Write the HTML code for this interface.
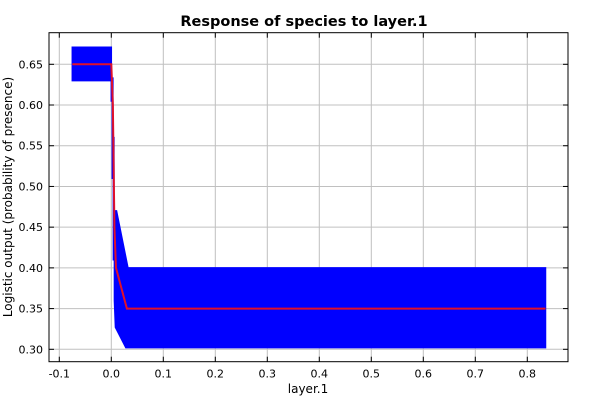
<!DOCTYPE html>
<html><head><meta charset="utf-8"><style>
body{margin:0;background:#fff;font-family:"DejaVu Sans","Liberation Sans",sans-serif}
</style></head><body>
<svg id="c" width="600" height="400" xmlns="http://www.w3.org/2000/svg" style="font-family:'DejaVu Sans','Liberation Sans',sans-serif">
<text x="304" y="26" text-anchor="middle" font-size="14.5" font-weight="bold">Response of species to layer.1</text>
<text x="308" y="393" text-anchor="middle" font-size="12">layer.1</text>
<text transform="translate(12,197) rotate(-90)" text-anchor="middle" font-size="12">Logistic output (probability of presence)</text>
<g id="grid"></g><g id="marks"></g><g id="axes"></g>
</svg>
<script>
const xTicks=[-0.1,0,0.1,0.2,0.3,0.4,0.5,0.6,0.7,0.8];
const xTickLabels=["-0.1","0.0","0.1","0.2","0.3","0.4","0.5","0.6","0.7","0.8"];
const yTicks=[0.30,0.35,0.40,0.45,0.50,0.55,0.60,0.65];
const yTickLabels=["0.30","0.35","0.40","0.45","0.50","0.55","0.60","0.65"];
const upperX=[-0.075,0.0,0.0,0.003,0.003,0.005,0.005,0.01,0.032,0.835];
const upperY=[0.671,0.671,0.633,0.633,0.56,0.56,0.47,0.47,0.40,0.40];
const lowerX=[-0.075,0.0,0.0,0.002,0.002,0.004,0.004,0.006,0.006,0.008,0.028,0.835];
const lowerY=[0.63,0.63,0.605,0.605,0.51,0.51,0.41,0.41,0.36,0.327,0.302,0.302];
const meanX=[-0.075,0.0,0.003,0.006,0.009,0.03,0.835];
const meanY=[0.65,0.65,0.60,0.45,0.40,0.35,0.35];
const L=49,R=568,T=32.7,B=361.7;
const sx=v=>111.3+v*520;
const sy=v=>64.3+(0.65-v)*814.3;
const NS="http://www.w3.org/2000/svg";
function mk(tag,attrs,parent){const e=document.createElementNS(NS,tag);for(const k in attrs)e.setAttribute(k,attrs[k]);document.getElementById(parent).appendChild(e);return e;}
xTicks.forEach((t,i)=>{
 const g=mk('line',{x1:sx(t),x2:sx(t),y1:T,y2:B,stroke:'#c0c0c0'},'grid');
 
 
 mk('line',{x1:sx(t),x2:sx(t),y1:B,y2:B-5,stroke:'#000'},'axes');
 mk('line',{x1:sx(t),x2:sx(t),y1:T,y2:T+5,stroke:'#000'},'axes');
 const tx=mk('text',{x:sx(t),y:B+16,'text-anchor':'middle','font-size':11},'axes');
 tx.textContent=xTickLabels[i];
 
 
});
yTicks.forEach((t,i)=>{
 const g=mk('line',{x1:L,x2:R,y1:sy(t),y2:sy(t),stroke:'#c0c0c0'},'grid');
 
 
 mk('line',{x1:L,x2:L+5,y1:sy(t),y2:sy(t),stroke:'#000'},'axes');
 mk('line',{x1:R,x2:R-5,y1:sy(t),y2:sy(t),stroke:'#000'},'axes');
 const tx=mk('text',{x:L-6,y:sy(t)+4,'text-anchor':'end','font-size':11},'axes');
 tx.textContent=yTickLabels[i];
 
 
});
const fr=mk('rect',{x:L,y:T,width:R-L,height:B-T,fill:'none',stroke:'#000'},'axes');


let pts=upperX.map((x,i)=>sx(x)+','+sy(upperY[i]));
for(let i=lowerX.length-1;i>=0;i--)pts.push(sx(lowerX[i])+','+sy(lowerY[i]));
const band=mk('polygon',{points:pts.join(' '),fill:'#0000ff',stroke:'#0000ff','stroke-width':1.5},'marks');


const line=mk('polyline',{points:meanX.map((x,i)=>sx(x)+','+sy(meanY[i])).join(' '),fill:'none',stroke:'#e0102a','stroke-width':2},'marks');


</script>
</body></html>
